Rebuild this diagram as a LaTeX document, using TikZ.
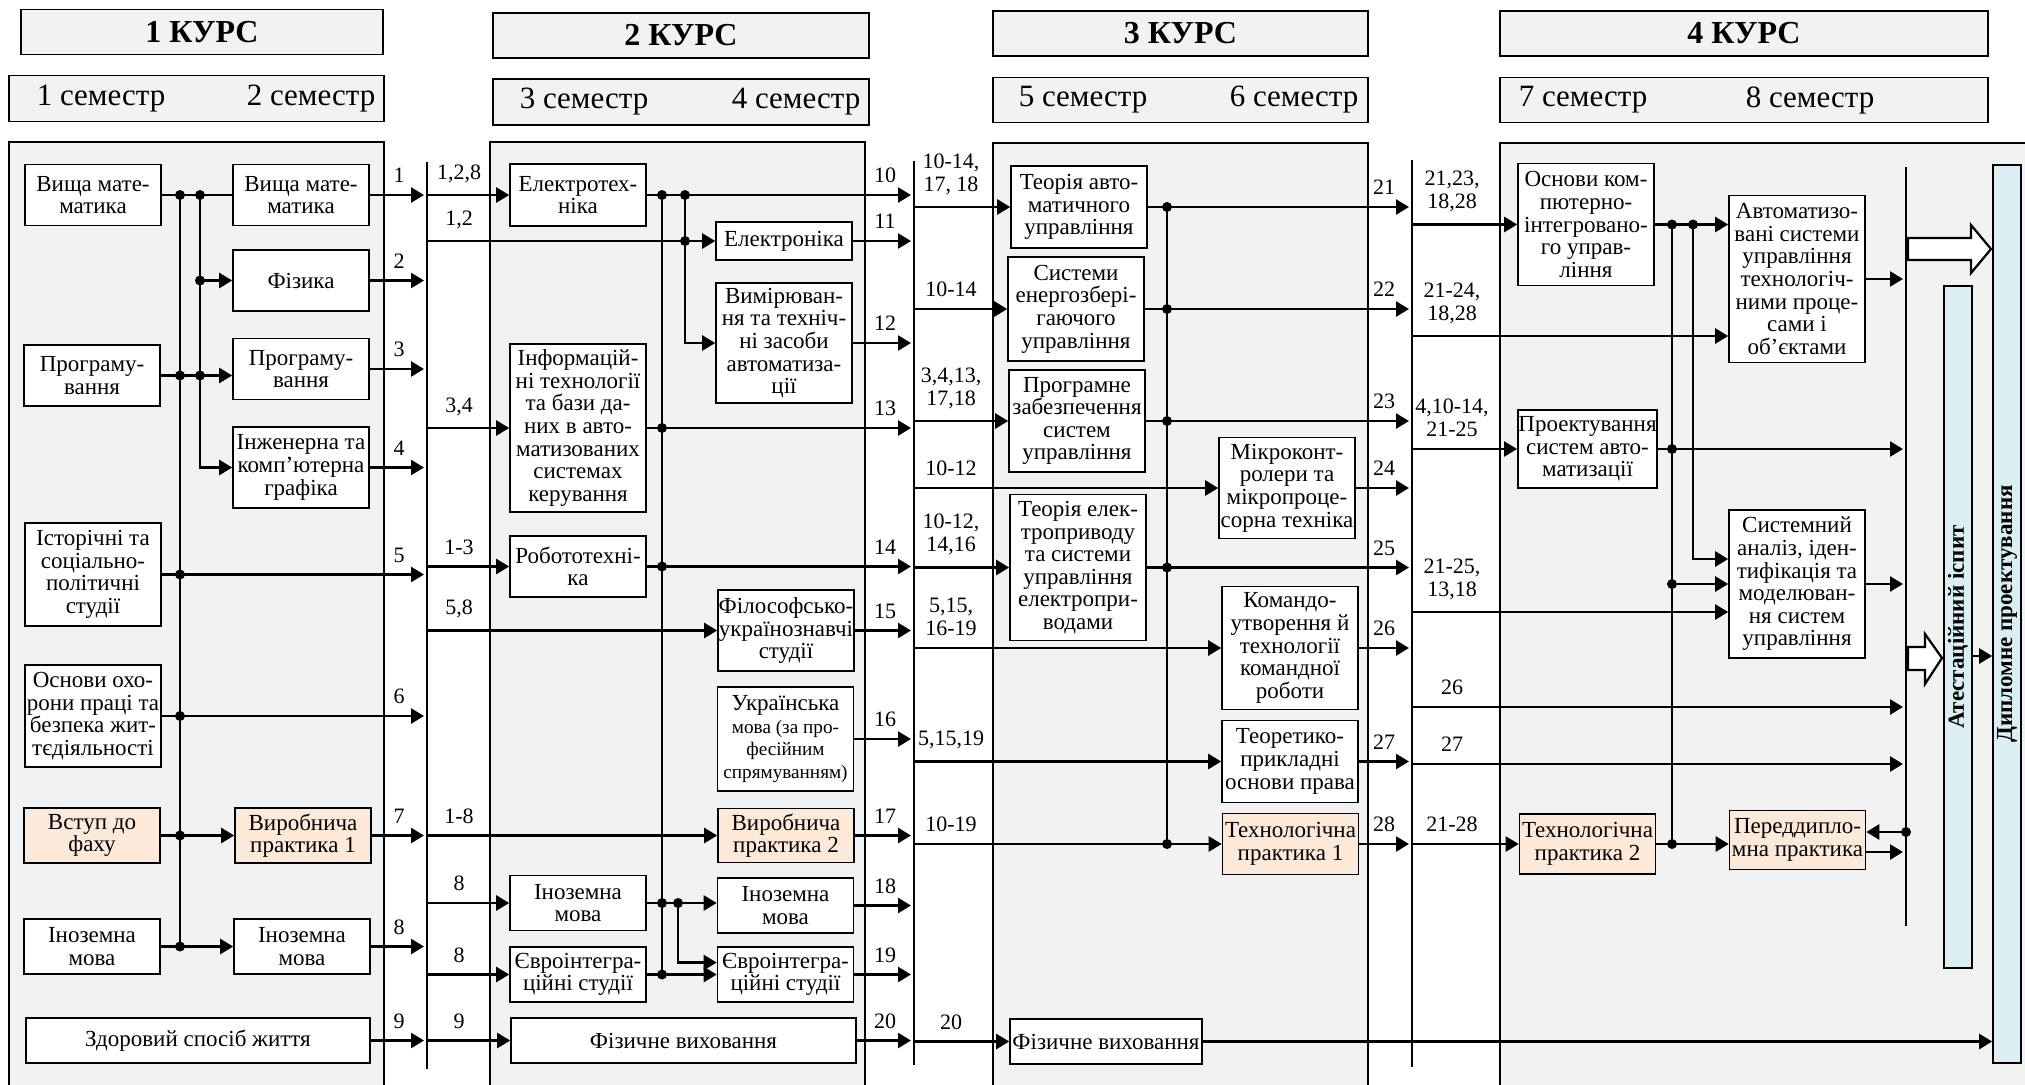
\documentclass[tikz,border=0pt]{standalone}
\usepackage{fontspec}
\setmainfont{Liberation Serif}
\usepackage{tikz}
\usetikzlibrary{arrows.meta,calc}
\usepackage{xcolor}
\definecolor{panelgray}{HTML}{F2F2F2}
\definecolor{peach}{HTML}{FDE9D9}
\definecolor{barblue}{HTML}{DAEEF3}
\newcommand{\bxfont}{\fontsize{11.5}{11.3}\selectfont}
\newcommand{\lblfont}{\fontsize{11}{11.5}\selectfont}
\newcommand{\crsfont}{\fontsize{16}{18}\selectfont\bfseries}
\newcommand{\semfont}{\fontsize{15.5}{17}\selectfont}
\newcommand{\ukrsmall}{\fontsize{9.6}{10.2}\selectfont}

\begin{document}
\begin{tikzpicture}[x=0.5pt, y=-0.5pt, >={Triangle[length=6.5pt,width=7.5pt]},
  box/.style={draw, line width=0.8pt, fill=white, align=center, inner sep=0.3pt, font=\bxfont, minimum width=68pt},
  prac/.style={box, fill=peach},
  head/.style={draw, line width=0.8pt, fill=panelgray, minimum height=22.5pt},
  panel/.style={draw, line width=0.8pt, fill=panelgray},
  bar/.style={draw, line width=0.8pt, fill=barblue, minimum width=14pt, inner sep=0pt, font=\fontsize{11.5}{12}\selectfont\bfseries},
  wire/.style={line width=1.3pt},
  conn/.style={wire, ->},
  bus/.style={line width=1.3pt},
  lbl/.style={font=\lblfont, inner sep=1pt, anchor=south, align=center, yshift=4.5pt},
  hollow/.style={draw, line width=1.1pt, fill=white, line join=miter}]
\useasboundingbox (0,0) rectangle (2025,1084);
% courses and semesters
\node[head, minimum width=181pt, font=\crsfont] (course1) at (202,32) {1 КУРС};
\node[head, minimum width=188pt, font=\crsfont] (course2) at (681,35.5) {2 КУРС};
\node[head, minimum width=187.5pt, font=\crsfont] (course3) at (1180.5,33.5) {3 КУРС};
\node[head, minimum width=244pt, font=\crsfont] (course4) at (1744,33.5) {4 КУРС};
\node[head, minimum width=187.5pt, minimum height=23pt] (sem12) at (196.5,98.5) {};
\node[head, minimum width=188pt, minimum height=23pt] (sem34) at (681,102) {};
\node[head, minimum width=187.5pt] (sem56) at (1180.5,100) {};
\node[head, minimum width=244pt] (sem78) at (1744,100) {};
\foreach \n/\x/\y in {1/101/98.5, 2/311/98.5, 3/584/102, 4/796/102, 5/1083/100, 6/1294/100, 7/1583/100, 8/1810/100}
  {\node[font=\semfont] (s\n) at (\x,\y) {\n\ семестр};}
% panels
\path[panel] (9,142) rectangle (384,1100);
\path[panel] (490,142) rectangle (865,1100);
\path[panel] (993,143) rectangle (1368,1100);
\path[panel] (1500,143) rectangle (2040,1100);
% buses
\draw[bus] (427,162) -- (427,1069);
\draw[bus] (914,161) -- (914,1065);
\draw[bus] (1412,160) -- (1412,1067);
\draw[bus] (1906,167) -- (1906,926);
\coordinate (b1) at (427,0); \coordinate (b2) at (914,0); \coordinate (b3) at (1412,0); \coordinate (b4) at (1906,0);
\coordinate (e1) at (424,0); \coordinate (e2) at (911,0); \coordinate (e3) at (1409,0); \coordinate (e4) at (1903,0);
\coordinate (l1) at (399,0); \coordinate (l2) at (885,0); \coordinate (l3) at (1384,0);
\coordinate (m1) at (459,0); \coordinate (m2) at (951,0); \coordinate (m3) at (1452,0);

% 1 course
\coordinate (tA) at (180,0); \coordinate (tB) at (200,0);
\node[box, minimum height=30.5pt] (mathA) at (93,195) {Вища мате-\\матика};
\node[box, minimum height=30.5pt] (progA) at (92,375.5) {Програму-\\вання};
\node[box, minimum height=51.5pt] (hist) at (93,574.5) {Історічні та\\соціально-\\політичні\\студії};
\node[box, minimum height=51pt] (safety) at (93,716) {Основи охо-\\рони праці та\\безпека жит-\\тєдіяльності};
\node[prac, minimum height=27.5pt] (intro) at (92,835.5) {Вступ до\\фаху};
\node[box, minimum height=27.5pt] (langA) at (92,946.5) {Іноземна\\мова};
\node[box, minimum width=172pt, minimum height=22.5pt] (health) at (198,1040.5) {Здоровий спосіб життя};
\node[box, minimum height=30.5pt] (mathB) at (301,195) {Вища мате-\\матика};
\node[box, minimum height=30.5pt] (phys) at (301,280.5) {Фізика};
\node[box, minimum height=30.5pt] (progB) at (301,369) {Програму-\\вання};
\node[box, minimum height=40.5pt] (graph) at (301,467.5) {Інженерна та\\комп’ютерна\\графіка};
\node[prac, minimum height=27.5pt] (prac1) at (303,835.5) {Виробнича\\практика 1};
\node[box, minimum height=27.5pt] (langB) at (302,946.5) {Іноземна\\мова};
\draw[wire] (mathA) -- (mathB);
\draw[wire] (tA |- mathA.east) -- (tA |- langA.east);
\draw[conn] (tB |- mathA.east) |- (graph.west);
\draw[conn] (tB |- phys.west) -- (phys.west);
\draw[conn] (progA.east) -- (progA.east -| progB.west);
\draw[conn] (intro) -- (prac1);
\draw[conn] (langA) -- (langB);
\foreach \a/\t in {mathB/1, phys/2, progB/3, graph/4, hist/5, safety/6, prac1/7, langB/8, health/9}
  {\draw[conn] (\a.east) -- (\a.east -| e1) node[lbl] at (l1 |- \a.east) {\t};}
\foreach \p in {tA |- mathA.east, tB |- mathA.east, tB |- phys.west, tA |- progA.east, tB |- progA.east, tA |- hist.east, tA |- safety.east, tA |- intro.east, tA |- langA.east}
  {\fill (\p) circle (2.5pt);}

% 2 course
\coordinate (tC) at (662,0); \coordinate (tD) at (685,0); \coordinate (tE) at (678,0);
\node[box, minimum height=31pt] (eltech) at (578,195) {Електротех-\\ніка};
\node[box, minimum height=84pt] (info) at (578,428) {Інформацій-\\ні технології\\та бази да-\\них в авто-\\матизованих\\системах\\керування};
\node[box, minimum height=30.5pt] (robot) at (578,566.5) {Робототехні-\\ка};
\node[box, minimum height=27.5pt] (langC) at (578,903) {Іноземна\\мова};
\node[box, minimum height=27.5pt] (euroA) at (578,974.5) {Євроінтегра-\\ційні студії};
\node[box, minimum width=172.5pt, minimum height=22.5pt] (sportA) at (683.5,1040.5) {Фізичне виховання};
\node[box, minimum height=19pt] (eltron) at (784,241) {Електроніка};
\node[box, minimum height=60pt] (meas) at (784,343) {Вимірюван-\\ня та техніч-\\ні засоби\\автоматиза-\\ції};
\node[box, minimum height=40.5pt] (philo) at (786,630.5) {Філософсько-\\українознавчі\\студії};
\node[box, minimum height=52pt] (ukr) at (785.5,739) {Українська\\\ukrsmall мова (за про-\\\ukrsmall фесійним\\\ukrsmall спрямуванням)};
\node[prac, minimum height=27pt] (prac2) at (786,835.5) {Виробнича\\практика 2};
\node[box, minimum height=27.5pt] (langD) at (785.5,905.5) {Іноземна\\мова};
\node[box, minimum height=27.5pt] (euroB) at (785.5,974.5) {Євроінтегра-\\ційні студії};
\foreach \a/\t in {eltech/{1,2,8}, eltron/{1,2}, info/{3,4}, robot/{1-3}, philo/{5,8}, prac2/{1-8}, langC/8, euroA/8, sportA/9}
  {\draw[conn] (b1 |- \a.west) -- (\a.west) node[lbl] at (m1 |- \a.west) {\t};}
\draw[wire] (tC |- eltech.east) -- (tC |- euroA.east);
\draw[conn] (tD |- eltech.east) |- (meas.west);
\draw[conn] (langC.east) -- (langC.east -| langD.west);
\draw[conn] (tE |- langC.east) |- ($(euroB.west)+(0,-12)$);
\draw[conn] (euroA) -- (euroB);
\foreach \a/\t in {eltech/10, eltron/11, meas/12, info/13, robot/14, philo/15, ukr/16, prac2/17, langD/18, euroB/19, sportA/20}
  {\draw[conn] (\a.east) -- (\a.east -| e2) node[lbl] at (l2 |- \a.east) {\t};}
\foreach \p in {tC |- eltech.east, tD |- eltech.east, tD |- eltron.west, tC |- info.east, tC |- robot.east, tC |- langC.east, tE |- langC.east, tC |- euroA.east}
  {\fill (\p) circle (2.5pt);}

% 3 course
\coordinate (tF) at (1167,0);
\node[box, minimum height=41pt] (tau) at (1079,207) {Теорія авто-\\матичного\\управління};
\node[box, minimum height=52pt] (energy) at (1076,309) {Системи\\енергозбері-\\гаючого\\управління};
\node[box, minimum height=51pt] (soft) at (1077,421) {Програмне\\забезпечення\\систем\\управління};
\node[box, minimum height=73pt] (drive) at (1078,567.5) {Теорія елек-\\троприводу\\та системи\\управління\\електропри-\\водами};
\node[box, minimum width=96pt, minimum height=22.5pt] (sportB) at (1106,1041.5) {Фізичне виховання};
\node[box, minimum height=50.5pt] (micro) at (1287,488) {Мікроконт-\\ролери та\\мікропроце-\\сорна техніка};
\node[box, minimum height=61.5pt] (team) at (1290,648) {Командо-\\утворення й\\технології\\командної\\роботи};
\node[box, minimum height=41pt] (law) at (1290,761.5) {Теоретико-\\прикладні\\основи права};
\node[prac, minimum height=30.5pt] (tech1) at (1290.5,844) {Технологічна\\практика 1};
\foreach \a/\t in {tau/{10-14,\\17, 18}, energy/10-14, soft/{3,4,13,\\17,18}, micro/10-12, drive/{10-12,\\14,16}, team/{5,15,\\16-19}, law/{5,15,19}, tech1/10-19, sportB/20}
  {\draw[conn] (b2 |- \a.west) -- (\a.west) node[lbl] at (m2 |- \a.west) {\t};}
\draw[wire] (tF |- tau.east) -- (tF |- tech1.west);
\foreach \a/\t in {tau/21, energy/22, soft/23, micro/24, drive/25, team/26, law/27, tech1/28}
  {\draw[conn] (\a.east) -- (\a.east -| e3) node[lbl] at (l3 |- \a.east) {\t};}
\foreach \p in {tF |- tau.east, tF |- energy.east, tF |- soft.east, tF |- drive.east, tF |- tech1.west}
  {\fill (\p) circle (2.5pt);}

% 4 course
\coordinate (tG) at (1672,0); \coordinate (tH) at (1693,0);
\node[box, minimum height=61pt] (cim) at (1586,224.5) {Основи ком-\\пютерно-\\інтегровано-\\го управ-\\ління};
\node[box, minimum height=39pt] (design) at (1587.5,449) {Проектування\\систем авто-\\матизації};
\node[prac, minimum height=30pt] (tech2) at (1587.5,844) {Технологічна\\практика 2};
\node[box, minimum height=83.5pt] (asu) at (1797,279) {Автоматизо-\\вані системи\\управління\\технологіч-\\ними проце-\\сами і\\об’єктами};
\node[box, minimum height=74pt] (sysan) at (1797,584) {Системний\\аналіз, іден-\\тифікація та\\моделюван-\\ня систем\\управління};
\node[prac, minimum height=29.5pt] (predip) at (1797.5,840) {Переддипло-\\мна практика};
\node[bar, minimum height=341pt] (exam) at (1958,627) {\rotatebox{90}{Атестаційний іспит}};
\node[bar, minimum height=449pt] (diploma) at (2007,614) {\rotatebox{90}{Дипломне проектування}};
\coordinate (asuin) at ($(asu.west)+(0,57)$);
\coordinate (sysin) at ($(sysan.west)+(0,28)$);
\coordinate (r26) at (1412,707); \coordinate (r27) at (1412,764);
\draw[conn] (b3 |- cim.west) -- (cim.west) node[lbl] at (m3 |- cim.west) {21,23,\\18,28};
\draw[conn] (b3 |- asuin) -- (asuin) node[lbl] at (m3 |- asuin) {21-24,\\18,28};
\draw[conn] (b3 |- design.west) -- (design.west) node[lbl] at (m3 |- design.west) {4,10-14,\\21-25};
\draw[conn] (b3 |- sysin) -- (sysin) node[lbl] at (m3 |- sysin) {21-25,\\13,18};
\draw[conn] (r26) -- (r26 -| e4) node[lbl] at (m3 |- r26) {26};
\draw[conn] (r27) -- (r27 -| e4) node[lbl] at (m3 |- r27) {27};
\draw[conn] (b3 |- tech2.west) -- (tech2.west) node[lbl] at (m3 |- tech2.west) {21-28};
\draw[conn] (sportB) -- (sportB -| diploma.west);
\draw[conn] (cim.east) -- (cim.east -| asu.west);
\draw[wire] (tG |- cim.east) -- (tG |- tech2.east);
\draw[conn] (tH |- cim.east) |- ($(sysan.west)+(0,-25)$);
\draw[conn] (tG |- sysan.west) -- (sysan.west);
\draw[conn] (tech2) -- (tech2 -| predip.west);
\foreach \a in {asu, design, sysan}
  {\draw[conn] (\a.east) -- (\a.east -| e4);}
\coordinate (pin) at ($(predip.east)+(0,-8)$);
\coordinate (pout) at ($(predip.east)+(0,12)$);
\draw[conn] (b4 |- pin) -- (pin);
\draw[conn] (pout) -- (pout -| e4);
\coordinate (exout) at ($(exam.east)+(0,29)$);
\draw[conn] (exout) -- (exout -| diploma.west);
\foreach \p in {tG |- cim.east, tH |- cim.east, tG |- design.east, tG |- sysan.west, tG |- tech2.east, b4 |- pin}
  {\fill (\p) circle (2.5pt);}
% hollow arrows
\path[hollow] (1908,238) -- (1971,238) -- (1971,225) -- (1991,249) -- (1971,273) -- (1971,260) -- (1908,260) -- cycle;
\path[hollow] (1908,647) -- (1925,647) -- (1925,634) -- (1942,658) -- (1925,684) -- (1925,670) -- (1908,670) -- cycle;
\end{tikzpicture}
\end{document}
